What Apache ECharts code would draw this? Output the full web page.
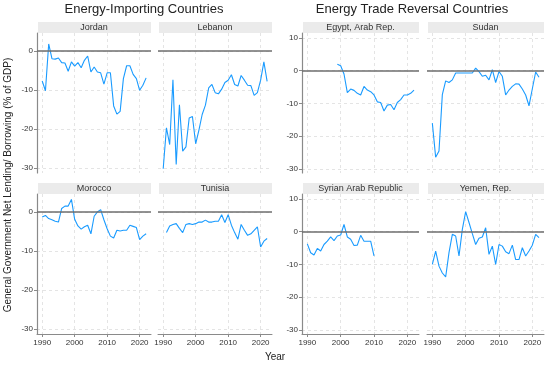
<!DOCTYPE html>
<html><head><meta charset="utf-8">
<script src="https://cdn.jsdelivr.net/npm/echarts@6/dist/echarts.min.js"></script>
<style>html,body{margin:0;padding:0;background:#fff}#c{width:550px;height:368px}</style>
</head><body><div id="c"></div><script>
const years = [1990,1991,1992,1993,1994,1995,1996,1997,1998,1999,2000,2001,2002,2003,2004,2005,2006,2007,2008,2009,2010,2011,2012,2013,2014,2015,2016,2017,2018,2019,2020,2021,2022];
const jordan  = [-7.7,-10.2,1.8,-2.0,-2.1,-1.8,-3.0,-3.1,-5.2,-2.8,-3.9,-3.0,-4.3,-2.4,-1.3,-5.4,-4.1,-5.4,-5.6,-8.5,-5.6,-5.6,-14.1,-16.2,-15.5,-7.1,-3.8,-3.8,-6.0,-7.1,-10.1,-8.8,-6.9];
const lebanon = [-30.2,-19.7,-24.0,-7.4,-29.1,-13.8,-25.7,-24.6,-17.2,-16.8,-23.8,-20.3,-16.3,-13.9,-9.5,-8.6,-10.7,-11.0,-9.8,-8.1,-7.5,-6.1,-8.6,-9.0,-6.3,-7.5,-8.8,-8.9,-11.4,-10.7,-7.5,-2.8,-7.8];
const morocco = [-1.3,-0.9,-1.7,-2.0,-2.4,-2.6,0.9,1.5,1.5,3.2,-1.9,-3.6,-4.4,-3.8,-3.4,-5.6,-1.1,0.0,0.6,-2.0,-4.3,-6.2,-6.7,-4.7,-4.9,-4.7,-4.7,-3.4,-3.7,-4.0,-7.1,-6.2,-5.6];
const tunisia = [null,-5.3,-3.6,-3.2,-3.0,-4.2,-5.3,-3.2,-3.0,-3.2,-3.0,-2.6,-2.6,-2.1,-2.6,-2.6,-2.4,-2.4,-0.7,-2.7,-0.7,-3.4,-5.3,-7.0,-3.2,-4.7,-6.0,-5.6,-4.7,-3.8,-9.0,-7.5,-6.8];
const egypt   = [null,null,null,null,null,null,null,null,null,2.0,1.5,-1.0,-6.7,-5.6,-6.0,-6.9,-7.4,-4.8,-5.9,-6.4,-7.4,-9.5,-9.7,-12.3,-10.5,-10.3,-11.9,-9.7,-8.8,-7.4,-7.4,-6.9,-5.9];
const sudan   = [-16.0,-26.4,-24.5,-7.3,-3.1,-3.6,-2.8,-0.7,-0.7,-0.7,-0.7,-0.7,-0.7,0.8,-0.3,-1.7,-1.4,-2.8,0.3,-3.6,-0.3,-1.7,-7.4,-5.9,-4.8,-4.0,-4.1,-5.6,-7.4,-10.7,-5.5,-0.4,-2.0];
const syria   = [-3.7,-6.4,-7.1,-5.1,-5.9,-3.9,-2.9,-1.6,-2.7,-1.3,-1.0,2.2,-1.6,-2.3,-4.2,-4.1,-1.1,-2.9,-2.9,-2.9,-7.4,null,null,null,null,null,null,null,null,null,null,null,null];
const yemen   = [-10.0,-5.9,-10.5,-12.6,-13.8,-6.4,-0.8,-1.3,-7.4,0.7,6.1,2.8,-0.6,-3.9,-2.0,-1.6,1.2,-6.9,-4.4,-10.0,-3.9,-4.4,-6.1,-6.7,-4.1,-8.5,-8.5,-4.9,-7.4,-5.9,-4.1,-0.8,-1.8];
const xTicks = [1990,2000,2010,2020];
const yTicksLeft = [-30,-20,-10,0];
const yTicksRight = [-30,-20,-10,0,10];
const panelNames = ['Jordan','Lebanon','Morocco','Tunisia','Egypt, Arab Rep.','Sudan','Syrian Arab Republic','Yemen, Rep.'];
const panelData = [jordan,lebanon,morocco,tunisia,egypt,sudan,syria,yemen];
const groupTitles = ['Energy-Importing Countries','Energy Trade Reversal Countries'];

// layout
const FONT = '"Liberation Sans", Arial, sans-serif';
const rowsTop = [33,194], rowH = 140;
const colLeft = [[37,158],[302,427]];
const colW = [114,117];
const yRange = [[-31.3,4.6],[-31.2,11.5]];
const xRange = [1988.4,2023.5];
const lineColor = '#1a9bff';

const grids=[], xAxes=[], yAxes=[], series=[], graphics=[];
panelNames.forEach((name,i)=>{
  const g = i<4?0:1, k = i%4, row = Math.floor(k/2), col = k%2;
  const left = colLeft[g][col], top = rowsTop[row], w = colW[g];
  grids.push({left:left, top:top, width:w, height:rowH, containLabel:false});
  const bottom = row===1, first = col===0;
  xAxes.push({type:'value', gridIndex:i, min:xRange[0], max:xRange[1],
    axisLine:{show:bottom, onZero:false, lineStyle:{color:'#8a8a8a', width:1}},
    axisTick:{show:bottom, length:3, customValues:xTicks, lineStyle:{color:'#8a8a8a'}},
    axisLabel:{show:bottom, customValues:xTicks, fontSize:8, color:'#333', fontFamily:FONT, margin:5, formatter:v=>String(v)},
    splitLine:{show:true, lineStyle:{color:'#e4e4e4', type:[3,3], width:1}}});
  const yt = g===0?yTicksLeft:yTicksRight;
  yAxes.push({type:'value', gridIndex:i, min:yRange[g][0], max:yRange[g][1],
    axisLine:{show:first, onZero:false, lineStyle:{color:'#8a8a8a', width:1.2}},
    axisTick:{show:first, length:3, customValues:yt, lineStyle:{color:'#8a8a8a'}},
    axisLabel:{show:first, customValues:yt, fontSize:8, color:'#333', fontFamily:FONT, margin:4},
    splitLine:{show:true, lineStyle:{color:'#e4e4e4', type:[3,3], width:1}}});
  const pts = [];
  panelData[i].forEach((v,j)=>{ if(v!==null) pts.push([years[j],v]); });
  series.push({type:'line', xAxisIndex:i, yAxisIndex:i, data:pts, showSymbol:false, symbol:'none',
    lineStyle:{color:lineColor, width:1.1}, itemStyle:{color:lineColor}, animation:false,
    markLine:{silent:true, symbol:['none','none'], label:{show:false},
      lineStyle:{color:'#6e6e6e', width:1.5, type:'solid'}, data:[{yAxis:0}], animation:false}});
  graphics.push({type:'rect', shape:{x:left+1, y:top-11, width:w-1, height:11}, style:{fill:'#ebebeb'}, silent:true});
  graphics.push({type:'text', x:left+w/2, y:top-5.5, style:{text:name, fill:'#333', font:'9px '+FONT, textAlign:'center', textVerticalAlign:'middle'}, silent:true});
});
graphics.push({type:'text', x:144, y:9, style:{text:groupTitles[0], fill:'#222', font:'13px '+FONT, textAlign:'center', textVerticalAlign:'middle'}});
graphics.push({type:'text', x:412, y:9, style:{text:groupTitles[1], fill:'#222', font:'13px '+FONT, textAlign:'center', textVerticalAlign:'middle'}});
graphics.push({type:'text', x:275, y:357, style:{text:'Year', fill:'#222', font:'10px '+FONT, textAlign:'center', textVerticalAlign:'middle'}});
graphics.push({type:'text', x:8, y:185, rotation:Math.PI/2, style:{text:'General Government Net Lending/ Borrowing (% of GDP)', fill:'#222', font:'10px '+FONT, textAlign:'center', textVerticalAlign:'middle'}});

const chart = echarts.init(document.getElementById('c'), null, {renderer:'canvas'});
chart.setOption({animation:false, backgroundColor:'#fff', grid:grids, xAxis:xAxes, yAxis:yAxes, series:series, graphic:graphics});
</script></body></html>
